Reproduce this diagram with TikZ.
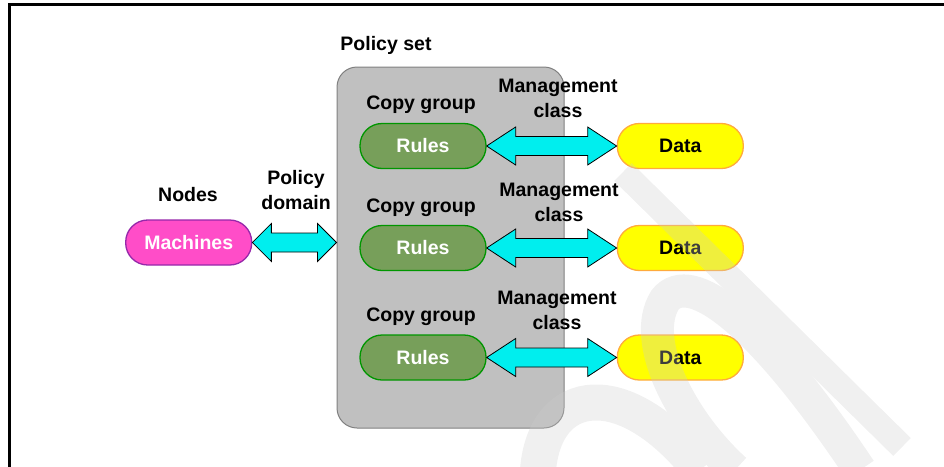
\documentclass[tikz,border=0pt]{standalone}
\usepackage{fontspec}
\setmainfont{Liberation Sans}
\usetikzlibrary{calc}

\definecolor{machfill}{RGB}{255,77,200}
\definecolor{machline}{RGB}{150,40,170}
\definecolor{rulefill}{RGB}{119,159,90}
\definecolor{ruleline}{RGB}{0,150,0}
\definecolor{datafill}{RGB}{255,255,0}
\definecolor{dataline}{RGB}{255,170,60}
\definecolor{setfill}{RGB}{192,192,192}
\definecolor{setline}{RGB}{128,128,128}
\definecolor{arrowfill}{RGB}{0,238,238}
\definecolor{wmark}{RGB}{205,205,205}

\tikzset{
  pill/.style={rectangle,rounded corners=22pt,minimum width=126pt,minimum height=45pt,line width=1.3pt,inner sep=0pt},
  machbox/.style={pill,fill=machfill,draw=machline,text=white},
  rulebox/.style={pill,fill=rulefill,draw=ruleline,text=white},
  databox/.style={pill,fill=datafill,draw=dataline},
  setbox/.style={rectangle,rounded corners=20pt,minimum width=227pt,minimum height=361pt,fill=setfill,draw=setline,line width=1pt},
  label/.style={align=center,inner sep=0pt},
  arrowbody/.style={fill=arrowfill,draw=black,line width=0.8pt,line join=miter},
  wm/.style={draw=wmark,line cap=butt}
}

% fat double arrow between two anchors, #3 = head length
\newcommand\fatarrow[3]{%
  \draw[arrowbody] (#1) -- ++(#3,-19) -- ++(0,9.5) -- ($(#2)+(-#3,-9.5)$) -- ++(0,-9.5)
    -- (#2) -- ++(-#3,19) -- ++(0,-9.5) -- ($(#1)+(#3,9.5)$) -- ++(0,9.5) -- cycle;}

\begin{document}
\begin{tikzpicture}[x=1pt,y=-1pt,font=\fontsize{19.5}{25}\selectfont\bfseries]
\useasboundingbox (0,0) rectangle (944,466);
% frame
\draw[line width=3pt] (9.3,470) -- (9.3,4.5) -- (948,4.5);

% policy set box
\node[setbox] (pset) at (450.5,247.5) {};
\node[label] (psetlab) at (386,45) {Policy set};

% machines
\node[machbox] (mach) at (188.7,242.5) {Machines};
\node[label] (nodeslab) at (188,195) {Nodes};
\node[label] (domlab) at (296,190.5) {Policy\\domain};
\coordinate (setin) at (mach.east -| pset.west);
\fatarrow{mach.east}{setin}{19}

% copy groups
\node[rulebox] (rules1) at (423,146) {Rules};
\node[rulebox] (rules2) at (423,248) {Rules};
\node[rulebox] (rules3) at (423,357.5) {Rules};
\node[label] (cg1) at (421,105) {Copy group};
\node[label] (cg2) at (421,208) {Copy group};
\node[label] (cg3) at (421,317) {Copy group};

% data
\node[databox] (data1) at (680.3,146) {Data};
\node[databox] (data2) at (680.3,248) {Data};
\node[databox] (data3) at (680.3,357.5) {Data};
\node[label] (mc1) at (558,98.5) {Management\\class};
\node[label] (mc2) at (559,202) {Management\\class};
\node[label] (mc3) at (557,310.5) {Management\\class};
\fatarrow{rules1.east}{data1.west}{29}
\fatarrow{rules2.east}{data2.west}{29}
\fatarrow{rules3.east}{data3.west}{29}

% watermark
\begin{scope}[transparency group,opacity=0.3]
\draw[wm,line width=25pt] (623,172) -- (902,447);
\draw[wm,line width=33pt] (735,470) .. controls (680,420) and (640,340) .. (665,300)
  .. controls (690,268) and (760,320) .. (860,470);
\draw[wm,line width=36pt] (538,470) .. controls (545,385) and (625,375) .. (700,470);
\end{scope}
\end{tikzpicture}
\end{document}
